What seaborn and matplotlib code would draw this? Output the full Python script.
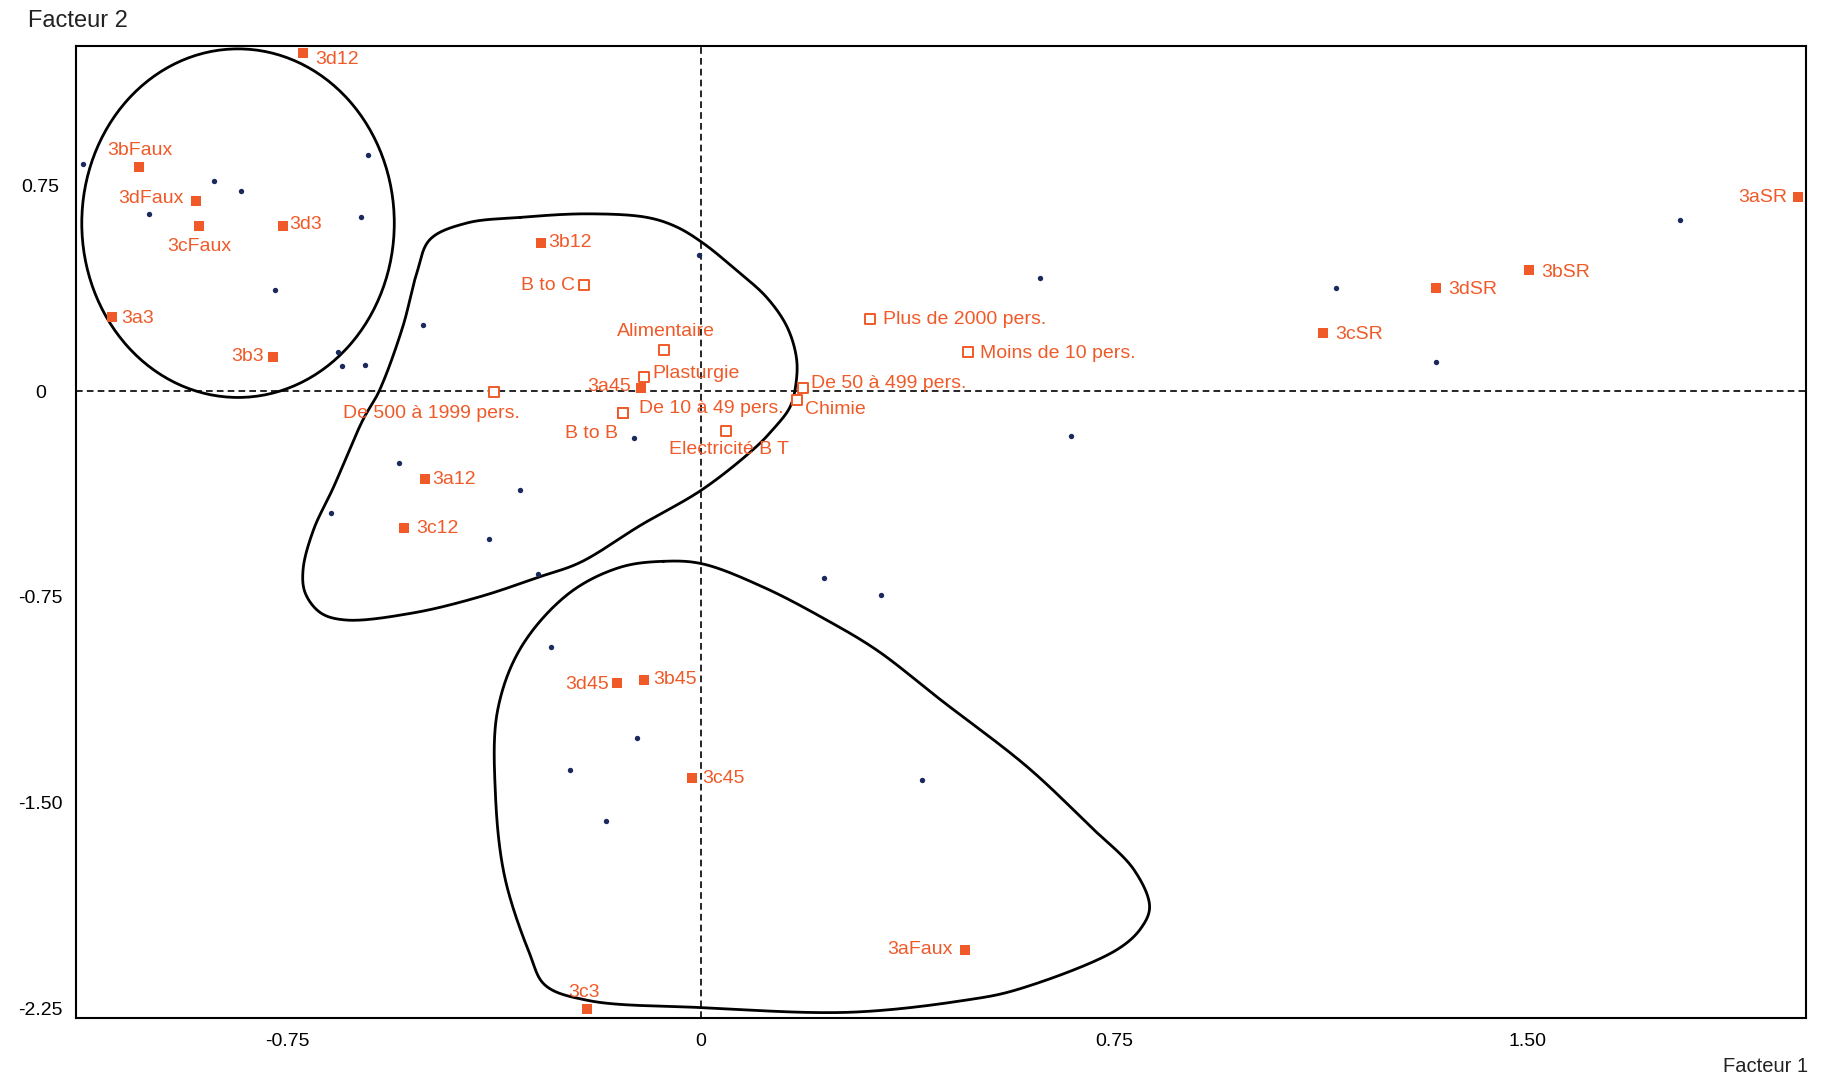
import numpy as np
import pandas as pd
import matplotlib
matplotlib.use("Agg")
import matplotlib.pyplot as plt
import seaborn as sns
from matplotlib.patches import Ellipse

# ---------------- data ----------------
# active modalities (filled squares)
mod_names = ["3d12", "3bFaux", "3dFaux", "3cFaux", "3d3", "3a3", "3b3", "3b12", "3a45",
             "3a12", "3c12", "3d45", "3b45", "3c45", "3aFaux", "3c3",
             "3cSR", "3dSR", "3bSR", "3aSR"]
mod_x = [-0.722, -1.019, -0.916, -0.910, -0.759, -1.068, -0.776, -0.290, -0.109,
         -0.501, -0.539, -0.153, -0.104, -0.017, 0.479, -0.207,
         1.129, 1.334, 1.502, 1.990]
mod_y = [1.232, 0.817, 0.693, 0.603, 0.603, 0.269, 0.124, 0.539, 0.013,
         -0.321, -0.500, -1.065, -1.052, -1.411, -2.036, -2.250,
         0.210, 0.376, 0.441, 0.706]

# supplementary modalities (open squares)
sup_names = ["B to C", "Alimentaire", "Plasturgie", "De 500 à 1999 pers.", "De 10 à 49 pers.",
             "B to B", "Electricité B T", "De 50 à 499 pers.", "Chimie",
             "Plus de 2000 pers.", "Moins de 10 pers."]
sup_x = [-0.213, -0.068, -0.104, -0.375, -0.141, -0.141, 0.045, 0.185, 0.175, 0.307, 0.484]
sup_y = [0.385, 0.150, 0.051, -0.004, -0.081, -0.081, -0.145, 0.013, -0.034, 0.261, 0.141]

# individuals (small navy dots)
ind_x = [-1.121, -0.605, -0.884, -0.835, -1.001, -0.616, -0.773, -0.658, -0.652, -0.609,
         -0.505, -0.004, -0.548, -0.671, -0.328, -0.384, -0.296, -0.121, 0.616, 0.671,
         1.153, 1.334, 1.777, 0.224, 0.326, -0.273, -0.117, -0.237, -0.173, 0.401]
ind_y = [0.826, 0.860, 0.766, 0.731, 0.646, 0.633, 0.368, 0.141, 0.090, 0.094,
         0.240, 0.496, -0.261, -0.445, -0.359, -0.539, -0.667, -0.171, 0.411, -0.163,
         0.376, 0.107, 0.624, -0.680, -0.744, -0.932, -1.262, -1.382, -1.565, -1.416]

x_ticks = [-0.75, 0, 0.75, 1.50]
x_tick_labels = ["-0.75", "0", "0.75", "1.50"]
y_ticks = [0.75, 0, -0.75, -1.50, -2.25]
y_tick_labels = ["0.75", "0", "-0.75", "-1.50", "-2.25"]

# hand-drawn cluster outlines (data coordinates)
cluster1_center = (-0.840, 0.612)
cluster1_size = (0.567, 1.270)
cluster2_x = [-0.328, -0.207, -0.098, -0.045, 0.004, 0.064, 0.119, 0.156, 0.173, 0.173,
              0.162, 0.130, 0.094, 0.002, -0.109, -0.219, -0.292, -0.401, -0.522, -0.644,
              -0.690, -0.718, -0.722, -0.703, -0.667, -0.614, -0.584, -0.541, -0.516,
              -0.492, -0.426]
cluster2_y = [0.633, 0.646, 0.633, 0.599, 0.539, 0.441, 0.342, 0.235, 0.124, 0.038,
              -0.056, -0.141, -0.214, -0.359, -0.488, -0.624, -0.676, -0.749, -0.808, -0.834,
              -0.808, -0.736, -0.650, -0.505, -0.351, -0.107, 0.000, 0.235, 0.428,
              0.552, 0.612]
cluster3_x = [-0.068, 0.002, 0.113, 0.228, 0.320, 0.435, 0.592, 0.707, 0.786, 0.814,
              0.799, 0.754, 0.573, 0.477, 0.271, 0.000, -0.205, -0.283, -0.311, -0.356,
              -0.373, -0.369, -0.326, -0.239, -0.147]
cluster3_y = [-0.620, -0.629, -0.714, -0.834, -0.945, -1.125, -1.369, -1.587, -1.745, -1.878,
              -1.955, -2.036, -2.181, -2.220, -2.263, -2.246, -2.220, -2.164, -2.049, -1.771,
              -1.467, -1.163, -0.932, -0.736, -0.642]

# label placement (offset in pixels, horizontal alignment)
mod_label_pos = {
    "3d12": (12, -7, "left"), "3bFaux": (0, 16, "center"), "3dFaux": (-13, 2, "right"),
    "3cFaux": (0, -21, "center"), "3d3": (7, 1, "left"), "3a3": (9, -1, "left"),
    "3b3": (-9, 1, "right"), "3b12": (7, 1, "left"), "3a45": (-10, 1, "right"),
    "3a12": (7, 0, "left"), "3c12": (12, 0, "left"), "3d45": (-8, -1, "right"),
    "3b45": (10, 0, "left"), "3c45": (11, 0, "left"), "3aFaux": (-12, 0, "right"),
    "3c3": (-3, 16, "center"), "3cSR": (12, -1, "left"), "3dSR": (12, -2, "left"),
    "3bSR": (12, -2, "left"), "3aSR": (-11, 0, "right"),
}
sup_label_pos = {
    "B to C": (-9, 0, "right"), "Alimentaire": (2, 18, "center"), "Plasturgie": (9, 4, "left"),
    "De 500 à 1999 pers.": (-63, -21, "center"), "De 10 à 49 pers.": (16, 5, "left"),
    "B to B": (-5, -20, "right"), "Electricité B T": (3, -19, "center"),
    "De 50 à 499 pers.": (8, 4, "left"), "Chimie": (8, -9, "left"),
    "Plus de 2000 pers.": (13, 0, "left"), "Moins de 10 pers.": (12, -1, "left"),
}

ORANGE = "#F05A28"
NAVY = "#1B2A5C"


def centripetal_closed(P, n=40, alpha=0.5):
    """Closed centripetal Catmull-Rom curve through points P (pixel space)."""
    m = len(P)
    out = []
    for i in range(m):
        p0, p1, p2, p3 = P[(i - 1) % m], P[i], P[(i + 1) % m], P[(i + 2) % m]
        t0 = 0.0
        t1 = t0 + np.linalg.norm(p1 - p0) ** alpha
        t2 = t1 + np.linalg.norm(p2 - p1) ** alpha
        t3 = t2 + np.linalg.norm(p3 - p2) ** alpha
        t = np.linspace(t1, t2, n, endpoint=False)[:, None]
        a1 = (t1 - t) / (t1 - t0) * p0 + (t - t0) / (t1 - t0) * p1
        a2 = (t2 - t) / (t2 - t1) * p1 + (t - t1) / (t2 - t1) * p2
        a3 = (t3 - t) / (t3 - t2) * p2 + (t - t2) / (t3 - t2) * p3
        b1 = (t2 - t) / (t2 - t0) * a1 + (t - t0) / (t2 - t0) * a2
        b2 = (t3 - t) / (t3 - t1) * a2 + (t - t1) / (t3 - t1) * a3
        c = (t2 - t) / (t2 - t1) * b1 + (t - t1) / (t2 - t1) * b2
        out.append(c)
    out = np.vstack(out + [out[0][:1]])
    return out


sns.set_style("white")
plt.rcParams["font.family"] = ["Liberation Sans", "DejaVu Sans"]

fig = plt.figure(figsize=(18.41, 10.8), dpi=100)
ax = fig.add_axes([76 / 1841, 62 / 1080, 1730 / 1841, 972 / 1080])

ax.set_xlim(-1.134, 2.005)
ax.set_ylim(-2.284, 1.2575)

ax.axhline(0, color="black", lw=1.2, ls=(0, (4, 2.5)), zorder=1)
ax.axvline(0, color="black", lw=1.2, ls=(0, (4, 2.5)), zorder=1)

# cluster outlines
ax.add_patch(Ellipse(cluster1_center, cluster1_size[0], cluster1_size[1],
                     fill=False, edgecolor="black", lw=2.0, zorder=2))
fig.canvas.draw()
for cx, cy in [(cluster2_x, cluster2_y), (cluster3_x, cluster3_y)]:
    pix = ax.transData.transform(np.column_stack([cx, cy]))
    curve = ax.transData.inverted().transform(centripetal_closed(pix))
    ax.plot(curve[:, 0], curve[:, 1], color="black", lw=2.0, zorder=2)

df_ind = pd.DataFrame({"x": ind_x, "y": ind_y})
df_mod = pd.DataFrame({"name": mod_names, "x": mod_x, "y": mod_y})
df_sup = pd.DataFrame({"name": sup_names, "x": sup_x, "y": sup_y})

sns.scatterplot(data=df_ind, x="x", y="y", ax=ax, color=NAVY, s=15, marker="o",
                linewidth=0, zorder=4, legend=False)
sns.scatterplot(data=df_mod, x="x", y="y", ax=ax, color=ORANGE, s=60, marker="s",
                linewidth=0, zorder=5, legend=False)
sns.scatterplot(data=df_sup, x="x", y="y", ax=ax, facecolor="white", edgecolor=ORANGE,
                s=42, marker="s", linewidth=1.4, zorder=5, legend=False)

for _, r in df_mod.iterrows():
    dx, dy, ha = mod_label_pos[r["name"]]
    ax.annotate(r["name"], (r["x"], r["y"]), xytext=(dx, dy), textcoords="offset pixels",
                ha=ha, va="center", fontsize=14, color=ORANGE, zorder=6)
for _, r in df_sup.iterrows():
    dx, dy, ha = sup_label_pos[r["name"]]
    ax.annotate(r["name"], (r["x"], r["y"]), xytext=(dx, dy), textcoords="offset pixels",
                ha=ha, va="center", fontsize=14, color=ORANGE, zorder=6)

ax.set_xticks(x_ticks)
ax.set_xticklabels(x_tick_labels)
ax.set_yticks(y_ticks)
ax.set_yticklabels(y_tick_labels)
ax.tick_params(axis="both", direction="inout", length=9, width=1.2, colors="black",
               labelsize=14)
ax.tick_params(axis="y", pad=21)
ax.tick_params(axis="x", pad=6)
for lab in ax.get_yticklabels():
    lab.set_horizontalalignment("center")
ax.set_xlabel("")
ax.set_ylabel("")

for sp in ax.spines.values():
    sp.set_visible(True)
    sp.set_color("black")
    sp.set_linewidth(1.5)

fig.text(28 / 1841, 1 - 21 / 1080, "Facteur 2", ha="left", va="center", fontsize=17,
         color="#222222")
fig.text(1808 / 1841, 1 - 1067 / 1080, "Facteur 1", ha="right", va="center", fontsize=14.5,
         color="#222222")

fig.savefig("out.png", dpi=100, facecolor="white")
